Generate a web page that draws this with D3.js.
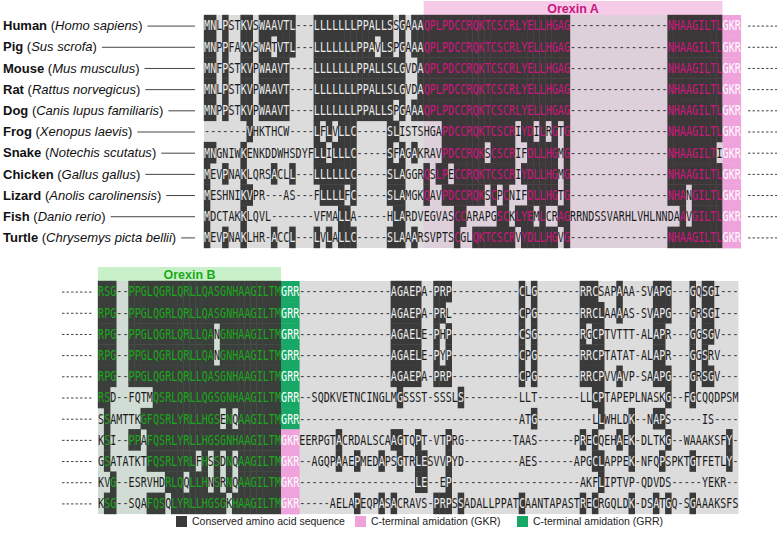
<!DOCTYPE html>
<html><head><meta charset="utf-8">
<script src="https://cdn.jsdelivr.net/npm/d3@7"></script>
<style>body{margin:0;background:#fff}svg{display:block}</style>
</head><body>
<script>
// ---------------- DATA ----------------
const species = ["Human","Pig","Mouse","Rat","Dog","Frog","Snake","Chicken","Lizard","Fish","Turtle"];
const sciNames = ["Homo sapiens","Sus scrofa","Mus musculus","Rattus norvegicus","Canis lupus familiaris",
  "Xenopus laevis","Notechis scutatus","Gallus gallus","Anolis carolinensis","Danio rerio","Chrysemys picta bellii"];

// Block 1: prepro-orexin N-terminal part + orexin A (85 columns)
const block1Seqs = [
  "MNLPSTKVSWAAVTL---LLLLLLLPPALLSSGAAAQPLPDCCRQKTCSCRLYELLHGAG" + "----------------" + "NHAAGILTL",
  "MNPPFAKVSWATVTL---LLLLLLLPPAVLSPGAAAQPLPDCCRQKTCSCRLYELLHGAG" + "----------------" + "NHAAGILTL",
  "MNFPSTKVPWAAVT----LLLLLLLPPALLSLGVDAQPLPDCCRQKTCSCRLYELLHGAG" + "----------------" + "NHAAGILTL",
  "MNLPSTKVPWAAVT----LLLLLLLPPALLSLGVDAQPLPDCCRQKTCSCRLYELLHGAG" + "----------------" + "NHAAGILTL",
  "MNPPSTKVPWAAVT----LLLLLLLPPALLSPGAAAQPLPDCCRQKTCSCRLYELLHGAG" + "----------------" + "NHAAGILTL",
  "-------VHKTHCW----LFLVLLC-----SLISTSHGAPDCCRQKTCSCRIYDILRGTG" + "----------------" + "NHAAGILTL",
  "MNGNIWKENKDDWHSDYFLLILLLC-----SFAGAKRAVPDCCRQKSCSCRIFDLLHGMG" + "----------------" + "NHAAGILTI",
  "MEVPNAKLQRSACLL---LLLLLLC-----SLAGGRQSLPECCRQKTCSCRIYDLLHGMG" + "----------------" + "NHAAGILTL",
  "MESHNIKVPR---AS---FLLLLFC-----SLAMGKQAVPDCCRQKSCPCNIFDLLHGTG" + "----------------" + "NHANGILTL",
  "MDCTAKKLQVL-------VFMALLA-----HLARDVEGVASCCARAPGSCKLYEMLCRAG" + "RRNDSSVARHLVHLNNDA" + "AVGILTL",
  "MEVPNAKLHR-ACCL---LVLALLC-----SLAAARSVPTSCGLQKTCSCRVYDLLHGVG" + "----------------" + "NHAAGILTL"
];
const block1Tags = ["GKR","GKR","GKR","GKR","GKR","GKR","GKR","GKR","GKR","GKR","GKR"];

// Block 2: orexin B (30 columns) + tag + C-terminal part
const block2Heads = [
  "RSG--PPGLQGRLQRLLQASGNHAAGILTM",
  "RPG--PPGLQGRLQRLLQASGNHAAGILTM",
  "RPG--PPGLQGRLQRLLQANGNHAAGILTM",
  "RPG--PPGLQGRLQRLLQANGNHAAGILTM",
  "RPG--PPGLQGRLQRLLQASGNHAAGILTM",
  "RSD--FQTMQSRLQRLLQGSGNHAAGILTM",
  "SSAMTTKGFQSRLYRLLHGSENQAAGILTM",
  "KSI--PPAFQSRLYRLLHGSGNHAAGILTM",
  "GSATATKTFQSRLYRLFHSSDNQAAGILTM",
  "KVG--ESRVHDRLQQLLHNSRNQAAGILTM",
  "KSG--SQAFQSQLYRLLHGSGKHAAGILTM"
];
const block2Tags = ["GRR","GRR","GRR","GRR","GRR","GRR","GRR","GKR","GKR","GKR","GKR"];
const block2Tails = [
  "---------------" + "AGAEPA-PRP" + "-----------" + "CLG" + "-------" + "RRCSAPAAA-SVAPG---GQSGI",
  "---------------" + "AGAEPA-PRL" + "-----------" + "CPG" + "-------" + "RRCLAAAAS-SVAPG---GRSGI",
  "---------------" + "AGAELE-PHP" + "-----------" + "CSG" + "-------" + "RGCPTVTTT-ALAPR---GGSGV",
  "---------------" + "AGAELE-PYP" + "-----------" + "CPG" + "-------" + "RRCPTATAT-ALAPR---GGSRV",
  "---------------" + "AGAEPA-PRP" + "-----------" + "CPG" + "-------" + "RRCPVVAVP-SAAPG---GRSGV",
  "--SQDKVETNCINGLMGSSST-SSSLS" + "---------" + "LLT" + "-------" + "LLCPTAPEPLNASKG--FGCQQDPSM",
  "------" + "------" + "------" + "------" + "------" + "------" + "ATG" + "---------" + "LLWHLDK--NAPS-----IS",
  "EERPGTACRDALSCAAGTQPT-VTPRG" + "--------" + "TAAS" + "------" + "PRECQEHAEK-DLTKG--WAAAKSFY",
  "--AGQPAAEPMEDAPSGTRLESVVPYD" + "---------" + "AES" + "------" + "APGCLAPPEK-NFQPSPKTGTFETLY",
  "-------------------" + "LE--EP" + "---------------------" + "AKFLIPTVP-QDVDS-----YEKR",
  "-----AELAPEQPASACRAVS-PRPSSADALLPPATCAANTAPASTRECRGQLDK-DSATGQ-SGAAAKSFS"
];

// manual shading corrections: [block, row, col, dark(1)/light(0)]
const shadeOverrides = [
  [2,0,50,0],[2,1,50,0],[2,2,50,0],[2,3,50,0],[2,4,50,0],
  [2,0,51,0],[2,1,51,0],[2,2,51,0],[2,3,51,0],[2,4,51,0]
];

const legendItems = ["Conserved amino acid sequence","C-terminal amidation (GKR)","C-terminal amidation (GRR)"];

// ---------------- STYLE ----------------
const W = 777, H = 536, CW = 6.1;
const C = {
  light: "#dcdcdc", dark: "#3a3a3a",
  pinkLight: "#ddd0da", pinkDark: "#3c3839",
  greenLight: "#d1dcd4", greenDark: "#3a3f3b",
  gkr: "#f0a2dc", grr: "#17a867",
  hdrA: "#f6cbe8", hdrB: "#c9f1c9",
  magenta: "#d0157f", green: "#1aa81a",
  textDark: "#1a1a1a", textLight: "#ededed"
};
const SEQ_FONT = "'DejaVu Sans Mono', monospace";
const LBL_FONT = "'Liberation Sans', Arial, sans-serif";

const svg = d3.select("body").append("svg").attr("width", W).attr("height", H);

function conservation(seqs, thr) {
  const n = seqs[0].length;
  const res = [];
  for (let c = 0; c < n; c++) {
    const counts = {}; let nonGap = 0;
    seqs.forEach(s => { const ch = s[c]; if (ch && ch !== "-") { counts[ch] = (counts[ch]||0)+1; nonGap++; } });
    res.push(seqs.map(s => {
      const ch = s[c]; if (!ch || ch === "-") return false;
      const k = counts[ch];
      return k >= thr || (k >= 2 && nonGap >= 3 && k / nonGap >= 0.5);
    }));
  }
  return res; // res[col][row]
}

function drawBlock(opts) {
  const {seqs, tags, x, y, tagCol, region, regionLight, regionDark, regionText, thr, blockId, tagColors} = opts;
  const g = svg.append("g");
  const nCols = seqs[0].length;
  const cons = conservation(seqs, thr);
  shadeOverrides.filter(o => o[0] === blockId).forEach(o => { cons[o[2]][o[1]] = !!o[3]; });
  const inRegion = c => c >= region[0] && c < region[1];
  const rh = y.bandwidth();
  const mapCol = c => (c >= tagCol ? c + 3 : c);
  const seqColsAll = d3.range(nCols).map(mapCol);
  const xMin = x(0), xMax = x(d3.max(seqColsAll) + 1);
  g.append("rect").attr("x", xMin).attr("y", y.range()[0]).attr("width", xMax - xMin)
    .attr("height", y.range()[1] - y.range()[0]).attr("fill", C.light);
  g.append("rect").attr("x", x(mapCol(region[0]))).attr("y", y.range()[0])
    .attr("width", x(mapCol(region[1]-1)+1) - x(mapCol(region[0]))).attr("height", y.range()[1] - y.range()[0])
    .attr("fill", regionLight);
  const cells = [];
  seqs.forEach((s, r) => { for (let c = 0; c < nCols; c++) cells.push({r, c, ch: s[c], dark: cons[c][r]}); });
  g.selectAll("rect.cell").data(cells.filter(d => d.dark)).join("rect")
    .attr("x", d => x(mapCol(d.c)) - 0.2).attr("y", d => y(d.r) - 0.2)
    .attr("width", CW + 0.4).attr("height", rh + 0.4)
    .attr("fill", d => inRegion(d.c) ? regionDark : C.dark);
  g.selectAll("rect.tag").data(tags).join("rect")
    .attr("x", x(tagCol)).attr("y", (d, i) => y(i)).attr("width", 3 * CW + 0.3).attr("height", rh + 0.4)
    .attr("fill", d => tagColors[d]);
  g.selectAll("text.res").data(cells).join("text")
    .attr("transform", d => `translate(${x(mapCol(d.c)) + CW/2},${y(d.r) + rh/2}) scale(0.74,1)`)
    .attr("text-anchor", "middle").attr("dy", "0.36em")
    .attr("font-family", SEQ_FONT).attr("font-size", 13.5)
    .attr("fill", d => d.dark ? (inRegion(d.c) ? regionText : C.textLight) : (d.ch === "-" ? "#444" : C.textDark))
    .text(d => d.ch);
  const tagLetters = [];
  tags.forEach((t, r) => t.split("").forEach((ch, k) => tagLetters.push({r, k, ch})));
  g.selectAll("text.tagl").data(tagLetters).join("text")
    .attr("transform", d => `translate(${x(tagCol + d.k) + CW/2},${y(d.r) + rh/2}) scale(0.74,1)`)
    .attr("text-anchor", "middle").attr("dy", "0.36em")
    .attr("font-family", SEQ_FONT).attr("font-size", 13.5).attr("fill", "#ffffff")
    .text(d => d.ch);
  return g;
}

// ---------- Block 1 ----------
const x1 = d3.scaleLinear().domain([0, 88]).range([204, 204 + 88 * CW]);
const y1 = d3.scaleBand().domain(d3.range(species.length)).range([15, 248]);
svg.append("rect").attr("x", x1(36)).attr("y", 1).attr("width", x1(85) - x1(36)).attr("height", 14).attr("fill", C.hdrA);
svg.append("text").attr("x", (x1(36) + x1(85)) / 2).attr("y", 8.5).attr("dy", "0.36em")
  .attr("text-anchor", "middle").attr("font-family", LBL_FONT).attr("font-weight", "bold")
  .attr("font-size", 12.5).attr("fill", "#c8157f").text("Orexin A");
drawBlock({seqs: block1Seqs, tags: block1Tags, x: x1, y: y1, tagCol: 85, region: [36, 85],
  regionLight: C.pinkLight, regionDark: C.pinkDark, regionText: C.magenta, thr: 5, blockId: 1,
  tagColors: {GKR: C.gkr, GRR: C.grr}});

const lab = svg.append("g");
species.forEach((sp, i) => {
  const cy = y1(i) + y1.bandwidth() / 2;
  const t = lab.append("text").attr("x", 3).attr("y", cy).attr("dy", "0.36em")
    .attr("font-family", LBL_FONT).attr("font-size", 13).attr("fill", "#111");
  t.append("tspan").attr("font-weight", "bold").text(sp);
  t.append("tspan").text(" (");
  t.append("tspan").attr("font-style", "italic").text(sciNames[i]);
  t.append("tspan").text(")");
  const w = t.node().getComputedTextLength();
  lab.append("line").attr("x1", 3 + w + 5).attr("x2", 195).attr("y1", cy + 0.5).attr("y2", cy + 0.5)
    .attr("stroke", "#444").attr("stroke-width", 1);
  lab.append("line").attr("x1", 748).attr("x2", 777).attr("y1", cy + 0.5).attr("y2", cy + 0.5)
    .attr("stroke", "#444").attr("stroke-width", 1).attr("stroke-dasharray", "2.5,2");
});

// ---------- Block 2 ----------
const x2 = d3.scaleLinear().domain([0, 105]).range([98, 98 + 105 * CW]);
const y2 = d3.scaleBand().domain(d3.range(species.length)).range([281, 514]);
svg.append("rect").attr("x", x2(0)).attr("y", 267).attr("width", x2(30) - x2(0)).attr("height", 14).attr("fill", C.hdrB);
svg.append("text").attr("x", (x2(0) + x2(30)) / 2).attr("y", 274).attr("dy", "0.36em")
  .attr("text-anchor", "middle").attr("font-family", LBL_FONT).attr("font-weight", "bold")
  .attr("font-size", 12.5).attr("fill", "#1aa81a").text("Orexin B");
const block2Seqs = block2Heads.map((h, i) => (h + block2Tails[i]).padEnd(102, "-"));
drawBlock({seqs: block2Seqs, tags: block2Tags, x: x2, y: y2, tagCol: 30, region: [0, 30],
  regionLight: C.greenLight, regionDark: C.greenDark, regionText: C.green, thr: 4, blockId: 2,
  tagColors: {GKR: C.gkr, GRR: C.grr}});
species.forEach((sp, i) => {
  const cy = y2(i) + y2.bandwidth() / 2;
  svg.append("line").attr("x1", 62).attr("x2", 92).attr("y1", cy + 0.5).attr("y2", cy + 0.5)
    .attr("stroke", "#444").attr("stroke-width", 1).attr("stroke-dasharray", "2.5,2");
});

// ---------- Legend ----------
const legColors = [C.dark, C.gkr, C.grr];
const legX = [176, 355, 517];
const lg = svg.append("g");
legendItems.forEach((t, i) => {
  lg.append("rect").attr("x", legX[i]).attr("y", 516).attr("width", 11).attr("height", 11).attr("fill", legColors[i]);
  lg.append("text").attr("x", legX[i] + 16).attr("y", 521.5).attr("dy", "0.36em")
    .attr("font-family", LBL_FONT).attr("font-size", 10.5).attr("fill", "#222").text(t);
});
</script>
</body></html>
